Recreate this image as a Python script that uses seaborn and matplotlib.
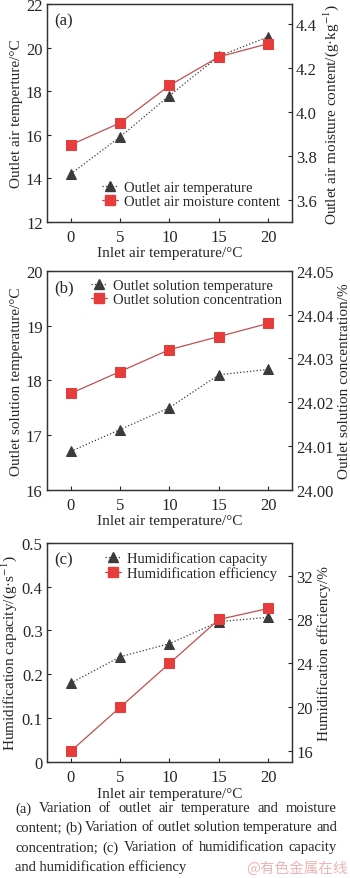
import matplotlib
matplotlib.use("Agg")
import matplotlib.pyplot as plt
import seaborn as sns
from matplotlib.lines import Line2D

# inlet air temperature (x axis, shared by all panels)
inlet_temp = [0, 5, 10, 15, 20]

# (a)
outlet_air_temp = [14.2, 15.9, 17.8, 19.6, 20.5]
outlet_air_moist = [3.85, 3.95, 4.12, 4.25, 4.31]
# (b)
outlet_sol_temp = [16.7, 17.1, 17.5, 18.1, 18.2]
outlet_sol_conc = [24.022, 24.027, 24.032, 24.035, 24.038]
# (c)
humid_capacity = [0.18, 0.24, 0.27, 0.32, 0.33]
humid_efficiency = [16.0, 20.0, 24.0, 28.0, 29.0]

caption_lines = [
    "(a) Variation of outlet air temperature and moisture",
    "content; (b) Variation of outlet solution temperature and",
    "concentration; (c) Variation of humidification capacity",
    "and humidification efficiency",
]

sns.set_style("ticks")
plt.rcParams['font.family'] = ['Liberation Serif', 'DejaVu Serif']
plt.rcParams['mathtext.fontset'] = 'stix'
plt.rcParams['xtick.direction'] = 'in'
plt.rcParams['ytick.direction'] = 'in'
plt.rcParams['xtick.major.size'] = 3
plt.rcParams['ytick.major.size'] = 3
plt.rcParams['axes.linewidth'] = 0.9

GREY = '#3b3b3b'
RED = '#e63c3c'
RED_LINE = '#c0504d'
FS_TICK = 12
FS_LAB = 11
FS_LEG = 10.5

fig = plt.figure(figsize=(3.5, 8.79), dpi=100)

panels = [
    dict(rect=[0.134, 0.7463, 0.7, 0.248], left=outlet_air_temp, right=outlet_air_moist,
         lylim=(12, 22), lyticks=[12, 14, 16, 18, 20, 22], rylim=(3.5, 4.49), ryticks=[3.6, 3.8, 4.0, 4.2, 4.4],
         rfmt='%.1f', lylabel='Outlet air temperture/°C',
         rylabel='Outlet air moisture content/(g·kg$^{-1}$)',
         names=['Outlet air temperature', 'Outlet air moisture content'],
         tag='(a)', leg_loc=(0.224, 0.19)),
    dict(rect=[0.134, 0.4417, 0.7, 0.249], left=outlet_sol_temp, right=outlet_sol_conc,
         lylim=(16, 20), lyticks=[16, 17, 18, 19, 20], rylim=(24.0, 24.05),
         ryticks=[24.0, 24.01, 24.02, 24.03, 24.04, 24.05], rfmt='%.2f',
         lylabel='Outlet solution temperature/°C', rylabel='Outlet solution concentration/%',
         names=['Outlet solution temperature', 'Outlet solution concentration'],
         tag='(b)', leg_loc=(0.18, 0.965)),
    dict(rect=[0.134, 0.1316, 0.7, 0.250], left=humid_capacity, right=humid_efficiency,
         lylim=(0, 0.5), lyticks=[0, 0.1, 0.2, 0.3, 0.4, 0.5], rylim=(15, 35),
         ryticks=[16, 20, 24, 28, 32], rfmt='%d',
         lylabel='Humidification capacity/(g·s$^{-1}$)', rylabel='Humidification efficiency/%',
         names=['Humidification capacity', 'Humidification efficiency'],
         tag='(c)', leg_loc=(0.237, 0.96)),
]

for p in panels:
    ax = fig.add_axes(p['rect'])
    ax2 = ax.twinx()
    sns.lineplot(x=inlet_temp, y=p['left'], ax=ax, color=GREY, linestyle=':', linewidth=0.9,
                 marker='^', markersize=7.5, markeredgecolor=GREY, markerfacecolor=GREY)
    sns.lineplot(x=inlet_temp, y=p['right'], ax=ax2, color=RED_LINE, linestyle='-', linewidth=0.9,
                 marker='s', markersize=6.5, markeredgecolor=RED, markerfacecolor=RED)
    ax.set_xlim(-2.4, 22.4)
    ax.set_xticks(inlet_temp)
    ax.set_ylim(*p['lylim'])
    ax.set_yticks(p['lyticks'])
    ax.set_yticklabels([('%g' % v) for v in p['lyticks']])
    ax2.set_ylim(*p['rylim'])
    ax2.set_yticks(p['ryticks'])
    ax2.set_yticklabels([p['rfmt'] % v for v in p['ryticks']])
    ax.tick_params(axis='x', labelsize=FS_TICK, pad=5)
    ax.tick_params(axis='y', labelsize=FS_TICK, pad=3)
    ax2.tick_params(labelsize=FS_TICK, pad=3, direction='in')
    ax.set_xlabel('Inlet air temperature/°C', fontsize=FS_LAB, labelpad=1)
    ax.set_ylabel(p['lylabel'], fontsize=FS_LAB, labelpad=2)
    ax2.set_ylabel(p['rylabel'], fontsize=FS_LAB, labelpad=3)
    for a in (ax, ax2):
        for s in a.spines.values():
            s.set_visible(True)
            s.set_color('#333333')
    ax.text(0.03, 0.96, p['tag'], transform=ax.transAxes, fontsize=FS_TICK, va='top', ha='left')
    handles = [
        Line2D([], [], color=GREY, linestyle=':', linewidth=0.9, marker='^', markersize=7.5),
        Line2D([], [], color=RED_LINE, linestyle='-', linewidth=0.9, marker='s', markersize=6.5,
               markerfacecolor=RED, markeredgecolor=RED),
    ]
    ax2.legend(handles, p['names'], loc='upper left', bbox_to_anchor=p['leg_loc'], frameon=False,
               fontsize=FS_LEG, handlelength=1.1, handletextpad=0.4, labelspacing=0.05,
               borderpad=0, borderaxespad=0)

# caption, justified line by line
fig.canvas.draw()
renderer = fig.canvas.get_renderer()
x0, x1 = 15 / 350, 337 / 350
ys = [809, 828, 848, 867]
for i, (line, yp) in enumerate(zip(caption_lines, ys)):
    y = 1 - yp / 879
    if i == len(caption_lines) - 1:
        fig.text(x0, y, line, fontsize=10.5, va='center', ha='left')
        continue
    words = line.split(' ')
    widths = []
    for w in words:
        t = fig.text(0, 0, w, fontsize=10.5)
        bb = t.get_window_extent(renderer)
        widths.append(bb.width / 350)
        t.remove()
    gap = ((x1 - x0) - sum(widths)) / (len(words) - 1)
    x = x0
    for w, wd in zip(words, widths):
        fig.text(x, y, w, fontsize=10.5, va='center', ha='left')
        x += wd + gap

fig.text(348 / 350, 1 - 869 / 879, '@有色金属在线', fontsize=10.5, color='#eeb4b4', ha='right', va='center',
         family=['Noto Sans CJK SC', 'DejaVu Sans'])

fig.savefig('out.png', dpi=100)
